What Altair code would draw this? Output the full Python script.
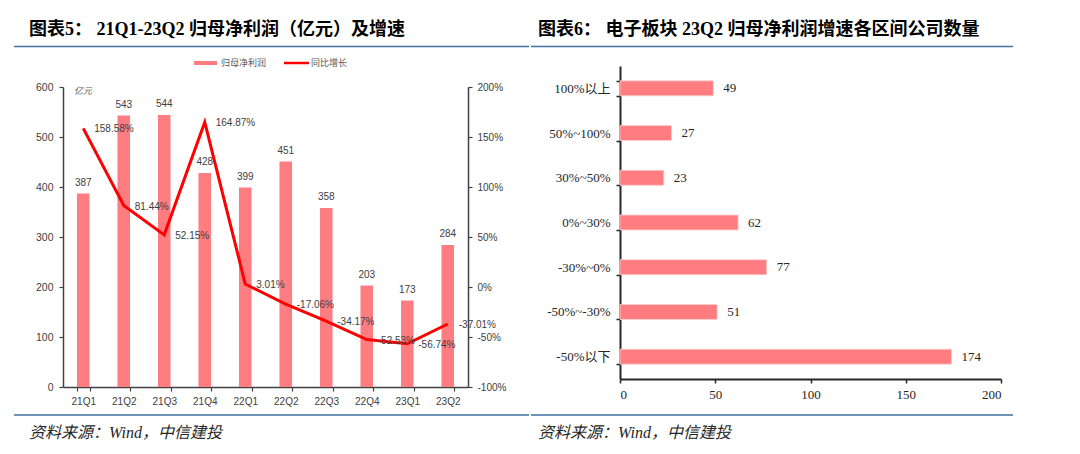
import altair as alt
import pandas as pd

# ---------------- data ----------------
quarters = ["21Q1", "21Q2", "21Q3", "21Q4", "22Q1", "22Q2", "22Q3", "22Q4", "23Q1", "23Q2"]
profit = [387, 543, 544, 428, 399, 451, 358, 203, 173, 284]
growth = [158.58, 81.44, 52.15, 164.87, 3.01, -17.06, -34.17, -52.53, -56.74, -37.01]

ranges = ["100%以上", "50%~100%", "30%~50%", "0%~30%", "-30%~0%", "-50%~-30%", "-50%以下"]
counts = [49, 27, 23, 62, 77, 51, 174]

title1 = ["图表5： 21Q1-23Q2 归母净利润（亿元）及增速"]
title2 = ["图表6： 电子板块 23Q2 归母净利润增速各区间公司数量"]
source = ["资料来源：Wind，中信建投"]
legend_names = ["归母净利润", "同比增长"]
unit = ["亿元"]

df1 = pd.DataFrame({"q": quarters, "profit": profit, "growth": growth})
df2 = pd.DataFrame({"r": ranges, "n": counts})
one = pd.DataFrame({"k": [0]})

# ---------------- style ----------------
BAR = "#FF7C80"
LINE = "#FF0000"
BLUE = "#41719C"
AX = "#404040"
SERIF = "Liberation Serif, Noto Sans CJK SC"

W1, H = 405, 321
W2 = 381


def text_layer(txt, x, y, size, font, color="#000000", weight="normal", style="normal", align="left"):
    return alt.Chart(pd.DataFrame({"t": txt})).mark_text(
        align=align, baseline="middle", fontSize=size, font=font, color=color,
        fontWeight=weight, fontStyle=style
    ).encode(x=alt.value(x), y=alt.value(y), text="t:N")


def hrule(x1, x2, y, color, width):
    return alt.Chart(one).mark_rule(color=color, strokeWidth=width).encode(
        x=alt.value(x1), x2=alt.value(x2), y=alt.value(y))


# ---------------- panel 1 ----------------
xq = alt.X("q:N", sort=quarters,
           scale=alt.Scale(paddingInner=0.69, paddingOuter=0.345),
           axis=alt.Axis(title=None, labelAngle=0, tickBand="extent", tickSize=4,
                         labelPadding=5, labelFont="Liberation Sans", labelFontSize=10,
                         labelColor=AX, domainColor=AX, tickColor=AX,
                         domainWidth=1.5, tickWidth=1.2))

scP = alt.Scale(domain=[0, 600], range=[H, 21], nice=False)
scG = alt.Scale(domain=[-100, 200], range=[H, 21], nice=False)

yP = alt.Y("profit:Q", scale=scP,
           axis=alt.Axis(title=None, orient="left", grid=False, values=list(range(0, 700, 100)),
                         tickSize=4, labelPadding=6, labelFont="Liberation Sans",
                         labelFontSize=10.5, labelColor=AX, domainColor=AX, tickColor=AX,
                         domainWidth=1.5, tickWidth=1.2))
yG = alt.Y("growth:Q", scale=scG,
           axis=alt.Axis(title=None, orient="right", grid=False, values=list(range(-100, 250, 50)),
                         labelExpr="datum.value + '%'", tickSize=4, labelPadding=5,
                         labelFont="Liberation Sans", labelFontSize=10, labelColor=AX,
                         domainColor=AX, tickColor=AX, domainWidth=1.5, tickWidth=1.2))

base1 = alt.Chart(df1).encode(x=xq)
bars1 = base1.mark_bar(color=BAR).encode(y=yP)
barlab1 = base1.mark_text(baseline="middle", dy=-11, fontSize=10, font="Liberation Sans",
                          color=AX).encode(
    y=alt.Y("profit:Q", scale=scP, axis=None), text="profit:Q")
line1 = base1.mark_line(color=LINE, strokeWidth=3).encode(y=yG)
linelab1 = base1.transform_calculate(
    g="(datum.growth < 0 ? '-' : '') + format(abs(datum.growth), '.2f') + '%'"
).mark_text(align="left", baseline="middle", dx=11, dy=1, fontSize=10,
            font="Liberation Sans", color=AX).encode(
    y=alt.Y("growth:Q", scale=scG, axis=None), text="g:N")

deco1 = [
    text_layer(title1, -34, -36, 18, SERIF, weight="bold"),
    hrule(-49, 466, -19.5, BLUE, 1.5),
    hrule(131, 154, -3, BAR, 4),
    text_layer([legend_names[0]], 158, -3, 9, "Noto Sans CJK SC", color="#595959"),
    hrule(221, 246, -3, LINE, 2.5),
    text_layer([legend_names[1]], 248, -3, 9, "Noto Sans CJK SC", color="#595959"),
    text_layer(unit, 11, 25, 9, "Noto Sans CJK SC", color="#595959", style="italic"),
    hrule(-49, 466, 349, BLUE, 1.5),
    text_layer(source, -34, 367, 16, SERIF, color="#262626", style="italic"),
]

p1 = alt.layer(bars1, barlab1, line1, linelab1, *deco1).resolve_scale(
    y="independent").properties(width=W1, height=H)

# ---------------- panel 2 ----------------
yR = alt.Y("r:N", sort=ranges,
           scale=alt.Scale(range=[0, 313], paddingInner=0.664, paddingOuter=0.332),
           axis=alt.Axis(title=None, tickBand="extent", tickSize=4, labelPadding=6,
                         labelFont=SERIF, labelFontSize=13, labelColor="#262626",
                         domainColor="#262626", tickColor="#262626", domainWidth=2,
                         tickWidth=1.5))
scN = alt.Scale(domain=[0, 200], nice=False)
xN = alt.X("n:Q", scale=scN,
           axis=alt.Axis(title=None, grid=False, values=[0, 50, 100, 150, 200], offset=-8,
                         tickSize=4, labelPadding=5, labelFont=SERIF, labelFontSize=13,
                         labelColor="#262626", domainColor="#262626", tickColor="#262626",
                         domainWidth=2, tickWidth=1.5))

base2 = alt.Chart(df2).encode(y=yR, x=xN)
bars2 = base2.mark_bar(color=BAR, stroke="#FFD0D0", strokeWidth=0.8)
lab2 = base2.mark_text(align="left", baseline="middle", dx=10, fontSize=13, font=SERIF,
                       color="#262626").encode(text="n:Q")

deco2 = [
    text_layer(title2, -82, -36, 18, SERIF, weight="bold"),
    hrule(-89, 393, -19.5, BLUE, 1.5),
    hrule(-89, 393, 349, BLUE, 1.5),
    text_layer(source, -82, 367, 16, SERIF, color="#262626", style="italic"),
]

p2 = alt.layer(bars2, lab2, *deco2).properties(width=W2, height=H)

chart = alt.hconcat(p1, p2, spacing=0).properties(
    padding={"left": 5, "top": 13, "right": 0, "bottom": 0}
).configure_view(strokeWidth=0)

chart.save("out.html", embed_options={"renderer": "svg", "actions": False})
